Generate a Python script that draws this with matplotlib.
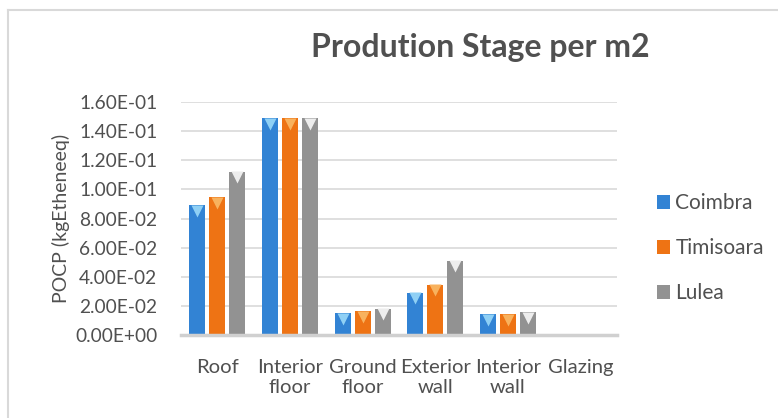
"""
Producao por m2 - POCP por elemento construtivo (Coimbra, Timisoara, Lulea).
"""
import matplotlib.pyplot as plt
import numpy as np
from matplotlib.lines import Line2D
from matplotlib.patches import Patch
from matplotlib.transforms import ScaledTranslation

categorias = ['Roof', 'Interior\nfloor', 'Ground\nfloor', 'Exterior\nwall',
              'Interior\nwall', 'Glazing']
coimbra = [0.0893, 0.149, 0.0151, 0.0289, 0.0144, 0.0005]
timisoara = [0.0948, 0.149, 0.0165, 0.0344, 0.0144, 0.0005]
lulea = [0.112, 0.149, 0.0179, 0.0509, 0.0158, 0.0005]
series = ['Coimbra', 'Timisoara', 'Lulea']
yticks = np.arange(0, 0.161, 0.02)

CORES = ['#3283D4', '#EE7314', '#929292']
TOPO = ['#8FD0F5', '#F8B25E', '#EDEDED']
TEXTO = '#505050'

plt.rcParams['font.family'] = ['Lato', 'DejaVu Sans']

fig = plt.figure(figsize=(7.78, 4.18), dpi=100)
ax = fig.add_axes([181 / 778, 83 / 418, 436 / 778, 233 / 418])

x = np.arange(len(categorias))
w = 0.22
desl = 0.275
shift = ScaledTranslation(0, -4 / 72, fig.dpi_scale_trans)
for i, (nome, vals) in enumerate(zip(series, [coimbra, timisoara, lulea])):
    xs = x + (i - 1) * desl
    ax.bar(xs, vals, width=w, color=CORES[i], zorder=3)
    ax.plot(xs, vals, 'v', ms=8, color=TOPO[i], mec='none', zorder=4,
            transform=ax.transData + shift)

ax.set_xlim(-0.5, len(categorias) - 0.5)
ax.set_ylim(0, 0.16)
ax.set_yticks(yticks)
ax.set_yticklabels([f'{v:.2E}' for v in yticks])
ax.set_xticks(x)
ax.set_xticklabels(categorias, linespacing=1.25)
ax.tick_params(axis='y', length=0, pad=17, labelsize=13.8, labelcolor=TEXTO)
ax.tick_params(axis='x', length=0, pad=17, labelsize=14.6, labelcolor=TEXTO)
ax.yaxis.grid(True, color='#D9D9D9', linewidth=1.2, zorder=0)
for s in ['top', 'right', 'left']:
    ax.spines[s].set_visible(False)
ax.spines['bottom'].set_color('#D0D0D0')
ax.spines['bottom'].set_linewidth(2.5)
ax.spines['bottom'].set_zorder(5)

ax.set_ylabel('POCP (kgEtheneeq)', fontsize=14, color=TEXTO, labelpad=4)

fig.text(480 / 778, 1 - 47 / 418, 'Prodution Stage per m2', ha='center',
         va='center', fontsize=23, fontweight='bold', color=TEXTO)

handles = [Patch(facecolor=c, label=n) for c, n in zip(CORES, series)]
fig.legend(handles=handles, loc='center left', bbox_to_anchor=(638 / 778, 1 - 248 / 418),
           frameon=False, fontsize=15, labelcolor=TEXTO, handlelength=0.65,
           handleheight=0.65, handletextpad=0.25, labelspacing=1.2)

# moldura do grafico
fig.add_artist(Line2D([8 / 778, 8 / 778], [0, 1 - 10 / 418], color='#D9D9D9', lw=1.5))
fig.add_artist(Line2D([8 / 778, 1], [1 - 10 / 418, 1 - 10 / 418], color='#D9D9D9', lw=1.5))

fig.savefig('out.png', dpi=100)
